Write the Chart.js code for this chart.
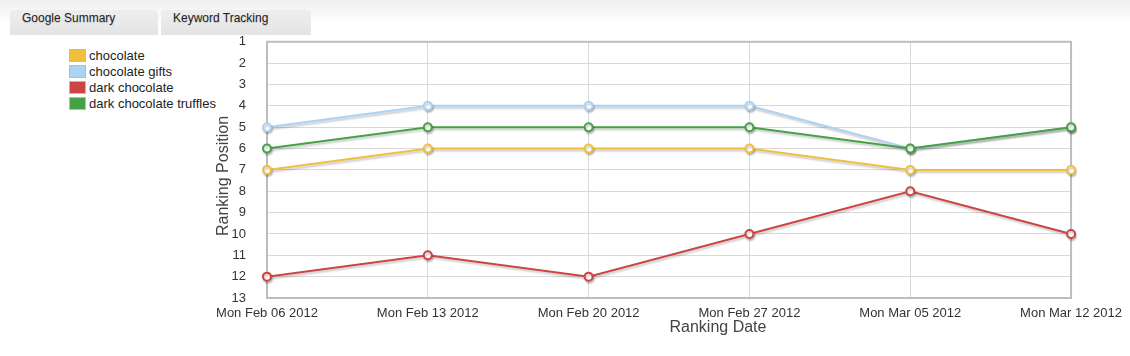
<!DOCTYPE html>
<html><head><meta charset="utf-8">
<script src="https://cdn.jsdelivr.net/npm/chart.js@4/dist/chart.umd.min.js"></script>
<style>
html,body{margin:0;padding:0;background:#fff;width:1130px;height:356px;overflow:hidden;font-family:"Liberation Sans",Arial,sans-serif;}
#topbg{position:absolute;left:0;top:0;width:1130px;height:24px;background:linear-gradient(#efefef,#fff);}
.tab{position:absolute;top:10px;height:25px;background:linear-gradient(#eeeeee,#e4e4e4);border-radius:4px 4px 0 0;font-size:12px;color:#222;box-sizing:border-box;padding:1px 0 0 12px;text-shadow:0 1px 1px rgba(0,0,0,0.15);}
#legend{position:absolute;left:69px;top:47px;font-size:13px;color:#222;}
.li{height:16px;display:flex;align-items:center;}
.sw{width:15px;height:11px;border:1px solid #bbb;margin-right:3px;box-sizing:content-box;}
#wrap{position:absolute;left:205px;top:13px;width:925px;height:337px;}
#xt{position:absolute;left:618px;width:200px;top:318px;text-align:center;font-size:16px;color:#444;}
#yt{position:absolute;left:123px;top:167px;width:200px;height:18px;line-height:18px;text-align:center;font-size:16px;color:#444;transform:rotate(-90deg);transform-origin:50% 50%;}
</style></head><body>
<div id="topbg"></div>
<div class="tab" style="left:10px;width:148px;">Google Summary</div>
<div class="tab" style="left:161px;width:150px;">Keyword Tracking</div>
<div id="legend"></div>
<div id="wrap"><canvas id="c"></canvas></div>
<div id="xt">Ranking Date</div>
<div id="yt">Ranking Position</div>
<script>
const categories = ["Mon Feb 06 2012","Mon Feb 13 2012","Mon Feb 20 2012","Mon Feb 27 2012","Mon Mar 05 2012","Mon Mar 12 2012"];
const seriesNames = ["chocolate","chocolate gifts","dark chocolate","dark chocolate truffles"];
const chocolate = [7,6,6,6,7,7];
const chocolateGifts = [5,4,4,4,6,5];
const darkChocolate = [12,11,12,10,8,10];
const darkChocolateTruffles = [6,5,5,5,6,5];
const colors = ["#f0c03c","#acd2f4","#cc4444","#44a244"];
const seriesValues = [chocolate, chocolateGifts, darkChocolate, darkChocolateTruffles];
const drawOrder = [3,4,2,1];

const lg = document.getElementById('legend');
seriesNames.forEach((n,i)=>{
  const d=document.createElement('div');d.className='li';
  d.innerHTML='<span class="sw" style="background:'+colors[i]+'"></span><span>'+n+'</span>';
  lg.appendChild(d);
});

const shadowPlugin = {
  id:'shadow',
  beforeDatasetDraw(chart){const c=chart.ctx;c.save();c.shadowColor='rgba(0,0,0,0.22)';c.shadowBlur=2;c.shadowOffsetX=1;c.shadowOffsetY=2;},
  afterDatasetDraw(chart){chart.ctx.restore();}
};
const borderPlugin = {
  id:'border',
  beforeDatasetsDraw(chart){const a=chart.chartArea,c=chart.ctx;c.save();c.strokeStyle='#bdbdbd';c.lineWidth=2;c.strokeRect(a.left,a.top,a.right-a.left,a.bottom-a.top);c.restore();}
};

new Chart(document.getElementById('c'),{
  type:'line',
  data:{labels:categories,datasets:seriesNames.map((n,i)=>({
    label:n,data:seriesValues[i],borderColor:colors[i],backgroundColor:'#fff',
    borderWidth:2,pointRadius:4,pointBorderWidth:2,pointBackgroundColor:'#fff',pointBorderColor:colors[i],
    tension:0,order:drawOrder[i]
  }))},
  options:{
    responsive:true,maintainAspectRatio:false,animation:false,
    layout:{padding:{top:11,right:57,bottom:0,left:7}},
    plugins:{legend:{display:false},tooltip:{enabled:false}},
    scales:{
      x:{grid:{color:'#d8d8d8',drawTicks:false},border:{display:false},
        ticks:{color:'#333',font:{size:13,family:'"Liberation Sans", Arial'},padding:8,maxRotation:0,autoSkip:false},
        afterFit(s){s.height=52;}},
      y:{reverse:true,min:1,max:13,grid:{color:'#d8d8d8',drawTicks:false},border:{display:false},
        ticks:{stepSize:1,color:'#333',font:{size:13,family:'"Liberation Sans", Arial'},padding:21},
        afterFit(s){s.width=55;}}
    }
  },
  plugins:[shadowPlugin,borderPlugin]
});
</script>
</body></html>
